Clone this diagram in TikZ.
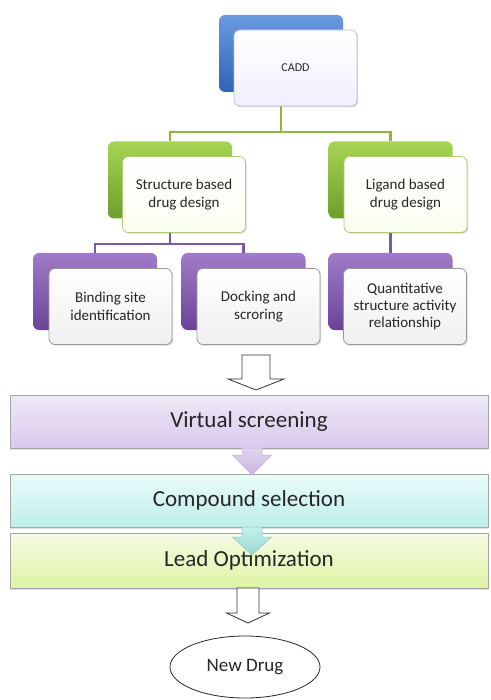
\documentclass[tikz,border=0pt]{standalone}
\usepackage{fontspec}
\setmainfont{Carlito}
\usetikzlibrary{calc,shapes.geometric,shadows}

\definecolor{txt}{HTML}{262626}
\definecolor{bluetop}{HTML}{6A9BE0}
\definecolor{bluebot}{HTML}{2F63B5}
\definecolor{greentop}{HTML}{A6D454}
\definecolor{greenbot}{HTML}{6E9E2C}
\definecolor{purptop}{HTML}{A07CC8}
\definecolor{purpbot}{HTML}{6A4397}
\definecolor{gline}{HTML}{8CB83E}
\definecolor{pline}{HTML}{7A5AA6}
\definecolor{vstop}{HTML}{EEE9F6}
\definecolor{vsbot}{HTML}{D8C9EE}
\definecolor{cstop}{HTML}{EAFBF9}
\definecolor{csbot}{HTML}{BDEFE9}
\definecolor{lotop}{HTML}{F6FBE6}
\definecolor{lobot}{HTML}{DDF4A2}

% draws a downward block arrow: style, start, tip, shaft half width, head half width, head length
\newcommand\downblock[6]{%
  \draw[#1] let \p1=(#2), \p2=(#3) in
    (\x1-#4,\y1) -- (\x1+#4,\y1) -- (\x1+#4,\y2+#6) -- (\x1+#5,\y2+#6)
    -- (\x1,\y2) -- (\x1-#5,\y2+#6) -- (\x1-#4,\y2+#6) -- cycle;}

\begin{document}
\begin{tikzpicture}[x=1pt,y=-1pt,
  backbox/.style={rounded corners=6pt, minimum width=124pt, minimum height=77pt,
    inner sep=0pt},
  blueback/.style={backbox, top color=bluetop, bottom color=bluebot},
  greenback/.style={backbox, top color=greentop, bottom color=greenbot},
  purpback/.style={backbox, top color=purptop, bottom color=purpbot},
  frontbox/.style={rounded corners=6pt, minimum width=123pt, minimum height=76pt,
    inner sep=2pt, align=center, text=txt, line width=0.8pt,
    font=\fontsize{15}{18}\selectfont,
    drop shadow={opacity=0.3, shadow xshift=1.2pt, shadow yshift=-1.2pt}},
  bluefront/.style={frontbox, draw=black!45!blue!25!white, top color=white, bottom color=blue!6!white},
  greenfront/.style={frontbox, draw=gline!70!white, top color=white, bottom color=green!30!yellow!6!white},
  purpfront/.style={frontbox, draw=black!40, top color=white, bottom color=black!6},
  bar/.style={minimum width=478pt, inner sep=0pt, draw=black!35, line width=0.8pt,
    text=txt, font=\fontsize{23}{26}\selectfont,
    drop shadow={opacity=0.25, shadow xshift=0pt, shadow yshift=-1.5pt}},
  hollow/.style={draw=black!80, fill=white, line width=0.8pt},
  vsarrow/.style={draw=purptop!60!white, top color=vstop!80!purptop, bottom color=purptop!55!white, line width=0.5pt},
  csarrow/.style={draw=csbot!80!black, top color=csbot!90!white, bottom color=csbot!80!teal, line width=0.5pt},
  gconn/.style={draw=gline, line width=2.8pt},
  pconn/.style={draw=pline, line width=2.8pt}]
\useasboundingbox (0,0) rectangle (490,700);

% coloured back cards of the tree
\coordinate (gj) at (281,132);
\coordinate (pj) at (170,244);
\node[blueback] (caddbk) at (281,53.5) {};
\node[greenback] (sbbk) at (170,180) {};
\node[greenback] (lbbk) at (390.5,180) {};
\node[purpback] (bsbk) at (95,291.5) {};
\node[purpback] (dsbk) at (243.5,291.5) {};
\node[purpback] (qsbk) at (390.5,291.5) {};

% tree connectors, drawn before the front cards so these cover their ends
\path[gconn] (caddbk.south) -- (gj) -| (sbbk.north);
\path[gconn] (gj) -| (lbbk.north);
\path[pconn] (sbbk.south) |- (pj) -| (bsbk.north);
\path[pconn] (pj) -| (dsbk.north);
\path[pconn] (lbbk.south) -- (qsbk.north);

% front cards
\node[bluefront, font=\fontsize{12}{14}\selectfont] (cadd) at (295.5,68) {CADD};
\node[greenfront] (sb) at (184,194.5) {Structure based\\drug design};
\node[greenfront] (lb) at (405.5,194.5) {Ligand based\\drug design};
\node[purpfront] (bs) at (110.5,306.5) {Binding site\\identification};
\node[purpfront] (ds) at (258.5,306.5) {Docking and\\scroring};
\node[purpfront, font=\fontsize{15}{17}\selectfont] (qs) at (405,306.5) {Quantitative\\structure activity\\relationship};

% pipeline bars
\node[bar, minimum height=53pt, top color=vstop, bottom color=vsbot] (vs) at (249,421.5) {Virtual screening};
\node[bar, minimum height=53pt, top color=cstop, bottom color=csbot] (cs) at (249,500.5) {Compound selection};
\node[bar, minimum height=55pt, top color=lotop, bottom color=lobot] (lo) at (249,560.5) {Lead Optimization};

\node[ellipse, draw=black!85, line width=0.8pt, minimum width=150pt, minimum height=62pt,
  text=txt, font=\fontsize{19}{22}\selectfont] (nd) at (245,667) {New Drug};

% arrows between the stages
\coordinate (a1s) at (256,355);
\coordinate (a1e) at (256,390);
\coordinate (b1s) at (252,448);
\coordinate (b1e) at (252,475);
\coordinate (b2s) at (252,527);
\coordinate (b2e) at (252,555);
\coordinate (a2s) at (248,588);
\coordinate (a2e) at (248,623);
\downblock{hollow}{a1s}{a1e}{14pt}{28pt}{11pt}
\downblock{vsarrow}{b1s}{b1e}{10pt}{19.5pt}{20pt}
\downblock{csarrow}{b2s}{b2e}{10pt}{19.5pt}{18pt}
\downblock{hollow}{a2s}{a2e}{11pt}{21.5pt}{10pt}
\end{tikzpicture}
\end{document}
